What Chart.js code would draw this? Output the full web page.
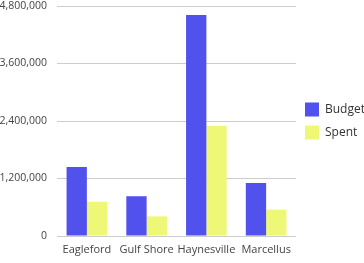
<!DOCTYPE html>
<html>
<head>
<meta charset="utf-8">
<script src="https://cdn.jsdelivr.net/npm/chart.js@4/dist/chart.umd.min.js"></script>
<style>
    html, body { margin: 0; padding: 0; background: #fff; }
    .wrap { position: relative; width: 364px; height: 263px; }
</style>
</head>
<body>
<div class="wrap"><canvas id="chart"></canvas></div>
<script>
    // --- data ---
    const regions = ['Eagleford', 'Gulf Shore', 'Haynesville', 'Marcellus'];
    const budget = [1440000, 830000, 4610000, 1105000];
    const spent = [715000, 410000, 2300000, 550000];
    const yTicks = [0, 1200000, 2400000, 3600000, 4800000];

    Chart.defaults.font.family = "'Open Sans', 'Noto Sans', sans-serif";
    Chart.defaults.font.size = 11;
    Chart.defaults.color = '#444';

    const ctx = document.getElementById('chart').getContext('2d');
    new Chart(ctx, {
        type: 'bar',
        data: {
            labels: regions,
            datasets: [
                { label: 'Budget', data: budget, backgroundColor: '#5151ED', categoryPercentage: 0.68, barPercentage: 1 },
                { label: 'Spent', data: spent, backgroundColor: '#EEF876', categoryPercentage: 0.68, barPercentage: 1 }
            ]
        },
        options: {
            responsive: true,
            maintainAspectRatio: false,
            animation: false,
            layout: { padding: { top: 6, bottom: 0, left: 0, right: 0 } },
            plugins: {
                legend: {
                    position: 'right',
                    fullSize: false,
                    maxWidth: 68,
                    labels: { boxWidth: 14, boxHeight: 14, padding: 9, color: '#333', font: { size: 12 } }
                },
                tooltip: { enabled: false }
            },
            scales: {
                x: {
                    grid: { display: false, drawTicks: false },
                    border: { display: false },
                    ticks: { padding: 7, autoSkip: false, maxRotation: 0 },
                    afterFit: axis => { axis.height = 27; }
                },
                y: {
                    min: 0,
                    max: yTicks[yTicks.length - 1],
                    afterBuildTicks: axis => { axis.ticks = yTicks.map(v => ({ value: v })); },
                    afterFit: axis => { axis.width = 57; axis.paddingTop = 0; axis.paddingBottom = 0; },
                    grid: { color: '#cccccc', drawTicks: false },
                    border: { display: false },
                    ticks: { padding: 10, font: { size: 10.5 }, callback: v => v.toLocaleString('en-US') }
                }
            }
        }
    });
</script>
</body>
</html>
